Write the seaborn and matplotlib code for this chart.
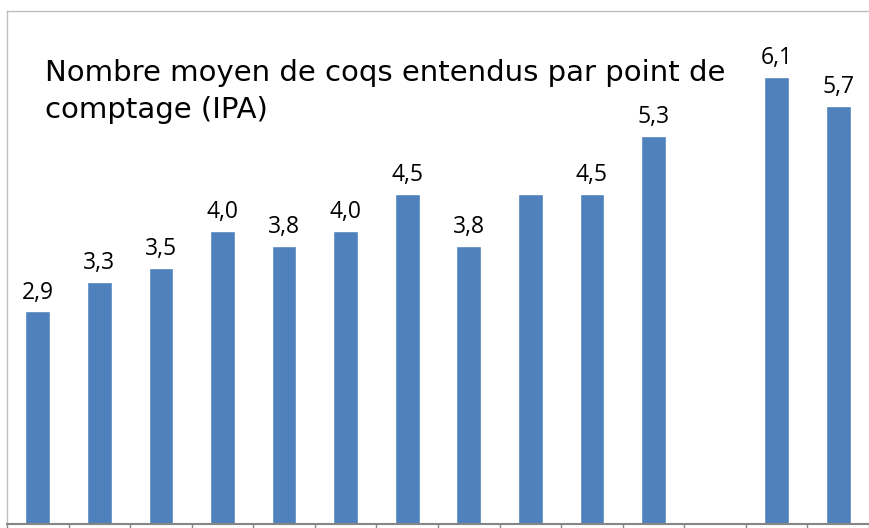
import numpy as np
import pandas as pd
import seaborn as sns
from matplotlib import pyplot as plt


# Survey points (no labels are shown on the x axis of the original chart).
categories = [str(i) for i in range(1, 15)]
values = [2.9, 3.3, 3.5, 4.0, 3.8, 4.0, 4.5, 3.8, 4.5, 4.5, 5.3, np.nan, 6.1, 5.7]
# Which bars carry a value label.
labelled = [True, True, True, True, True, True, True, True, False, True, True, False, True, True]
title_lines = ['Nombre moyen de coqs entendus par point de', 'comptage (IPA)']

sns.set_theme(style='white')
plt.rcParams['font.family'] = ['Open Sans', 'DejaVu Sans']

df = pd.DataFrame({'cat': categories, 'val': values}).dropna()

fig = plt.figure(figsize=(8.69, 5.28), dpi=100)
# Plot area in pixel terms: left 7, bottom 524, top 11.
ax = fig.add_axes([7 / 869, 4 / 528, 862 / 869, 513 / 528])

sns.barplot(data=df, x='cat', y='val', order=categories, color='#4F81BD',
            saturation=1, width=0.4, ax=ax)

ax.set_ylim(0, 7)
ax.set_xlim(-0.5, 862 / 62.3 - 0.5)
ax.set_xlabel('')
ax.set_ylabel('')
ax.set_yticks([])

# Excel-style tick marks between categories.
ax.set_xticks(np.arange(-0.5, len(categories), 1))
ax.set_xticklabels([])
ax.tick_params(axis='x', bottom=True, direction='out', length=4, width=1, color='#868686')

for side in ['left', 'top']:
    ax.spines[side].set_color('#BFBFBF')
    ax.spines[side].set_linewidth(1)
ax.spines['right'].set_visible(False)
ax.spines['bottom'].set_color('#868686')
ax.spines['bottom'].set_linewidth(1.5)

# Value labels with a decimal comma.
for i, (v, show) in enumerate(zip(values, labelled)):
    if show and not np.isnan(v):
        ax.annotate('{:.1f}'.format(v).replace('.', ','), (i, v), xytext=(0, 5),
                    textcoords='offset points', ha='center', va='bottom',
                    fontsize=16.5, color='black')

# Title written inside the plot area, one text per line (baselines at y=81 and y=118 px).
for line, base_px in zip(title_lines, [81, 118]):
    ax.text(38 / 862, (524 - base_px) / 513, line, transform=ax.transAxes,
            fontsize=21, family='DejaVu Sans', ha='left', va='baseline', color='black')

fig.savefig('out.png', dpi=100)
